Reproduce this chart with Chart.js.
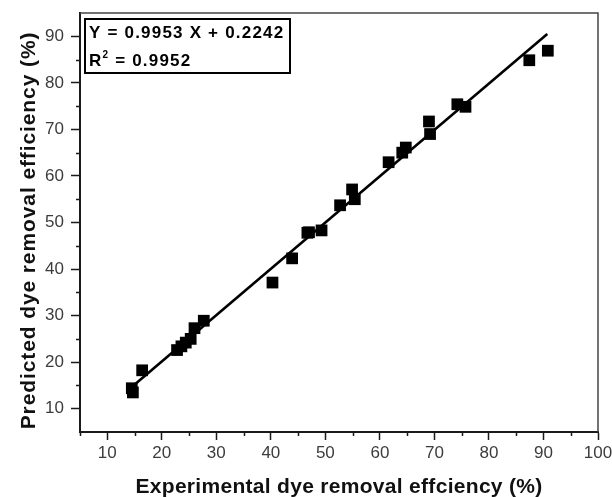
<!DOCTYPE html>
<html>
<head>
<meta charset="utf-8">
<script src="https://cdn.jsdelivr.net/npm/chart.js@4.4.1/dist/chart.umd.min.js"></script>
<style>
  html, body { margin: 0; padding: 0; background: #fff; }
  #wrap { width: 612px; height: 497px; position: relative; }
</style>
</head>
<body>
<div id="wrap"><canvas id="c" width="612" height="497"></canvas></div>
<script>
// ---- Data ----
const experimental = [14.5, 14.7, 16.4, 22.8, 23.6, 24.4, 25.3, 26.0, 27.7, 40.3, 43.9, 46.7, 47.0, 49.3, 52.7, 54.9, 55.4, 61.6, 64.1, 64.75, 69.0, 69.2, 74.2, 75.7, 87.4, 90.8];
const predicted    = [14.4, 13.5, 18.25, 22.6, 23.4, 24.2, 25.0, 27.3, 28.9, 37.1, 42.3, 47.8, 47.9, 48.3, 53.7, 57.1, 55.0, 62.95, 65.0, 66.1, 71.7, 69.0, 75.4, 74.85, 84.85, 86.9];
const xTickValues = [10, 20, 30, 40, 50, 60, 70, 80, 90, 100];
const yTickValues = [10, 20, 30, 40, 50, 60, 70, 80, 90];
const xMinorTicks = [5, 15, 25, 35, 45, 55, 65, 75, 85, 95];
const yMinorTicks = [15, 25, 35, 45, 55, 65, 75, 85];
// Linear fit shown in the chart
const fitSlope = 0.9953;
const fitIntercept = 0.2242;
const fitRange = [14.6, 90.7];
const fitLabel = 'Y = 0.9953 X + 0.2242';
const r2Value = '0.9952';
const xTitle = 'Experimental dye removal effciency (%)';
const yTitle = 'Predicted dye removal efficiency (%)';

const scatterPts = experimental.map((x, i) => ({ x: x, y: predicted[i] }));
const fitPts = fitRange.map(x => ({ x: x, y: fitSlope * x + fitIntercept }));

const FONT = '"Liberation Sans", Arial, sans-serif';
const AXIS = '#1a1a1a';
const TICKTXT = '#3c3c3c';

const framePlugin = {
  id: 'frame',
  afterDatasetsDraw(chart) {
    const { ctx, chartArea: a, scales } = chart;
    ctx.save();
    // top and right frame lines
    ctx.strokeStyle = '#444';
    ctx.lineWidth = 1.5;
    ctx.beginPath();
    ctx.moveTo(a.left, a.top);
    ctx.lineTo(a.right, a.top);
    ctx.lineTo(a.right, a.bottom);
    ctx.stroke();
    // minor ticks
    ctx.strokeStyle = AXIS;
    ctx.lineWidth = 1.5;
    ctx.beginPath();
    xMinorTicks.forEach(v => {
      const px = Math.round(scales.x.getPixelForValue(v)) + 0.5;
      ctx.moveTo(px, a.bottom);
      ctx.lineTo(px, a.bottom + 4);
    });
    yMinorTicks.forEach(v => {
      const py = Math.round(scales.y.getPixelForValue(v)) + 0.5;
      ctx.moveTo(a.left, py);
      ctx.lineTo(a.left - 4, py);
    });
    ctx.stroke();
    // equation box
    const bx = a.left + 5, by = a.top + 6, bw = 205, bh = 54;
    ctx.fillStyle = '#fff';
    ctx.fillRect(bx, by, bw, bh);
    ctx.strokeStyle = '#000';
    ctx.lineWidth = 2;
    ctx.strokeRect(bx, by, bw, bh);
    ctx.fillStyle = '#000';
    ctx.textBaseline = 'alphabetic';
    ctx.textAlign = 'left';
    ctx.font = 'bold 17px ' + FONT;
    if ('letterSpacing' in ctx) ctx.letterSpacing = '1.2px';
    ctx.fillText(fitLabel, bx + 4, by + 19);
    let tx = bx + 4;
    ctx.fillText('R', tx, by + 47);
    tx += ctx.measureText('R').width;
    ctx.font = 'bold 10px ' + FONT;
    ctx.fillText('2', tx, by + 39);
    tx += ctx.measureText('2').width;
    ctx.font = 'bold 17px ' + FONT;
    ctx.fillText(' = ' + r2Value, tx, by + 47);

    // axis titles
    ctx.fillStyle = '#111';
    ctx.font = 'bold 21px ' + FONT;
    ctx.textAlign = 'center';
    if ('letterSpacing' in ctx) ctx.letterSpacing = '0.3px';
    ctx.fillText(xTitle, (a.left + a.right) / 2, 493);
    ctx.save();
    ctx.translate(35, (a.top + a.bottom) / 2 + 8);
    ctx.rotate(-Math.PI / 2);
    if ('letterSpacing' in ctx) ctx.letterSpacing = '0.9px';
    ctx.fillText(yTitle, 0, 0);
    ctx.restore();
    ctx.restore();
  }
};

new Chart(document.getElementById('c'), {
  type: 'scatter',
  data: {
    datasets: [
      {
        type: 'line',
        data: fitPts,
        borderColor: '#000',
        borderWidth: 2.6,
        pointRadius: 0,
        fill: false,
        tension: 0,
        order: 2
      },
      {
        type: 'scatter',
        data: scatterPts,
        pointStyle: 'rect',
        pointRadius: 8.3,
        pointBackgroundColor: '#000',
        pointBorderWidth: 0,
        borderColor: '#000',
        order: 1
      }
    ]
  },
  options: {
    responsive: false,
    animation: false,
    events: [],
    layout: { padding: { left: 0, top: 13, right: 14, bottom: 0 } },
    plugins: { legend: { display: false }, tooltip: { enabled: false } },
    scales: {
      x: {
        type: 'linear',
        min: 5, max: 100,
        border: { display: true, color: AXIS, width: 2 },
        grid: { drawOnChartArea: false, drawTicks: true, tickLength: 8, tickColor: AXIS, tickWidth: 1.5 },
        ticks: { color: TICKTXT, padding: 3, font: { family: FONT, size: 17 }, maxRotation: 0 },
        afterBuildTicks(s) { s.ticks = xTickValues.map(v => ({ value: v })); },
        afterFit(s) { s.height = 65; s.paddingLeft = 0; s.paddingRight = 0; }
      },
      y: {
        type: 'linear',
        min: 5, max: 95,
        border: { display: true, color: AXIS, width: 2 },
        grid: { drawOnChartArea: false, drawTicks: true, tickLength: 9, tickColor: AXIS, tickWidth: 1.5 },
        ticks: { color: TICKTXT, padding: 7, font: { family: FONT, size: 17 } },
        afterBuildTicks(s) { s.ticks = yTickValues.map(v => ({ value: v })); },
        afterFit(s) { s.width = 80; s.paddingTop = 0; s.paddingBottom = 0; }
      }
    }
  },
  plugins: [framePlugin]
});
</script>
</body>
</html>
